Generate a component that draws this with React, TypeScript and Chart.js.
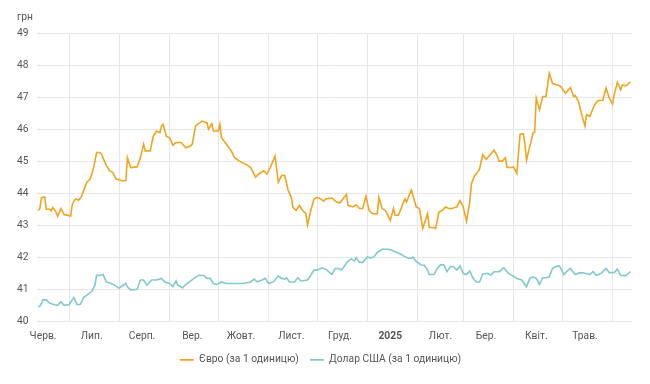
import React, { useEffect, useRef } from "react";
import { Chart, registerables } from "chart.js";

Chart.register(...registerables);

// Day index: 0 = 1 June 2024
const monthStartDays = [30, 61, 92, 122, 153, 183, 214, 245, 273, 304, 334, 365];
const monthMidDays = [14, 44, 75, 106, 136, 167, 197, 228, 259, 287, 318, 348];
const monthLabels = ["Черв.", "Лип.", "Серп.", "Вер.", "Жовт.", "Лист.", "Груд.", "2025", "Лют.", "Бер.", "Квіт.", "Трав."];
const yearTickDay = 228;

const euroDays = [
  11, 12, 13, 15, 16, 18, 19, 20, 22, 23, 25, 27, 30, 31, 32, 34, 36, 38, 39, 41, 43, 45, 47, 49, 50, 53, 55, 57, 59, 63,
  65, 66, 68, 72, 74, 76, 77, 80, 82, 84, 86, 87, 88, 90, 92, 94, 96, 99, 102, 105, 106, 108, 112, 115, 116, 118, 119, 122, 123, 124,
  127, 130, 132, 135, 139, 142, 145, 147, 150, 152, 154, 157, 159, 161, 163, 165, 167, 168, 170, 172, 174, 176, 177, 179, 181, 183, 185, 187, 188, 192,
  195, 197, 201, 202, 205, 207, 209, 211, 213, 215, 217, 220, 221, 223, 225, 228, 230, 231, 233, 237, 238, 241, 244, 246, 248, 251, 252, 255, 256, 258,
  260, 262, 264, 266, 269, 271, 273, 275, 277, 278, 280, 281, 283, 285, 287, 289, 292, 294, 295, 297, 299, 300, 303, 304, 306, 308, 310, 311, 312, 314,
  316, 317, 318, 320, 322, 324, 326, 328, 331, 333, 336, 339, 341, 342, 344, 346, 348, 349, 351, 354, 356, 359, 361, 363, 365, 366, 368, 370, 371, 373,
  374, 376,
];
const euroValues = [
  43.46, 43.52, 43.86, 43.88, 43.5, 43.5, 43.45, 43.55, 43.41, 43.28, 43.52, 43.33, 43.3, 43.28, 43.65, 43.82, 43.78, 43.93, 44.08, 44.34, 44.44, 44.75, 45.27, 45.27, 45.22, 44.86, 44.7, 44.64, 44.44, 44.39,
  44.39, 45.11, 44.8, 44.82, 45.11, 45.53, 45.32, 45.32, 45.78, 45.94, 45.89, 46.1, 46.15, 45.78, 45.73, 45.5, 45.58, 45.58, 45.42, 45.48, 45.53, 46.1, 46.25, 46.2, 46.0, 46.17, 45.94, 45.94, 46.15, 45.73,
  45.53, 45.32, 45.11, 45.0, 44.9, 44.8, 44.5, 44.6, 44.7, 44.6, 44.8, 45.16, 44.34, 44.55, 44.55, 44.1, 43.87, 43.56, 43.46, 43.62, 43.46, 43.36, 43.0, 43.46, 43.82, 43.87, 43.82, 43.75, 43.82, 43.85,
  43.72, 43.7, 43.96, 43.62, 43.57, 43.64, 43.52, 43.52, 43.9, 43.46, 43.36, 43.36, 43.87, 43.52, 43.46, 43.15, 43.52, 43.31, 43.31, 43.82, 43.72, 44.1, 43.57, 43.52, 42.9, 43.36, 42.93, 42.93, 42.9, 43.41,
  43.46, 43.57, 43.52, 43.52, 43.57, 43.77, 43.57, 43.13, 43.72, 44.29, 44.55, 44.6, 44.75, 45.2, 45.06, 45.16, 45.34, 45.16, 45.0, 45.0, 45.11, 44.8, 44.8, 44.82, 44.62, 45.84, 45.85, 45.53, 45.03, 45.47,
  45.88, 45.9, 46.97, 46.6, 47.02, 47.02, 47.74, 47.43, 47.38, 47.33, 47.12, 47.3, 47.02, 47.05, 46.87, 46.45, 46.1, 46.45, 46.4, 46.76, 46.89, 46.9, 47.28, 46.97, 46.78, 47.07, 47.46, 47.23, 47.38, 47.35,
  47.38, 47.48,
];

const usdDays = [
  11, 12, 14, 16, 18, 21, 23, 25, 27, 30, 33, 35, 37, 39, 41, 44, 46, 47, 49, 51, 53, 56, 58, 61, 62, 65, 66, 68, 72, 74,
  76, 78, 81, 84, 87, 89, 92, 94, 96, 97, 100, 102, 105, 107, 110, 113, 115, 117, 119, 121, 124, 127, 132, 137, 142, 144, 146, 149, 151, 153,
  156, 159, 161, 163, 164, 166, 169, 171, 173, 177, 179, 181, 183, 186, 189, 192, 194, 196, 198, 202, 204, 206, 207, 209, 211, 214, 216, 218, 220, 223,
  227, 229, 231, 234, 237, 239, 241, 242, 244, 247, 249, 251, 252, 255, 257, 259, 261, 263, 265, 267, 269, 271, 273, 275, 277, 279, 281, 283, 285, 288,
  290, 292, 295, 298, 301, 303, 306, 309, 312, 314, 316, 318, 320, 322, 324, 326, 328, 330, 332, 333, 335, 337, 339, 342, 345, 348, 351, 353, 355, 358,
  361, 363, 366, 368, 370, 373, 376,
];
const usdValues = [
  40.46, 40.47, 40.67, 40.67, 40.57, 40.52, 40.5, 40.61, 40.5, 40.52, 40.74, 40.52, 40.53, 40.74, 40.82, 40.93, 41.13, 41.44, 41.43, 41.46, 41.23, 41.18, 41.13, 41.03, 41.08, 41.18, 41.08, 40.98, 41.0, 41.29,
  41.29, 41.13, 41.29, 41.29, 41.34, 41.23, 41.18, 41.08, 41.26, 41.13, 41.05, 41.15, 41.26, 41.34, 41.44, 41.43, 41.34, 41.34, 41.18, 41.15, 41.23, 41.18, 41.18, 41.18, 41.23, 41.32, 41.23, 41.29, 41.34, 41.18,
  41.23, 41.42, 41.34, 41.32, 41.36, 41.23, 41.23, 41.36, 41.26, 41.29, 41.44, 41.6, 41.6, 41.67, 41.6, 41.46, 41.65, 41.65, 41.6, 41.88, 41.95, 41.88, 41.99, 41.84, 41.84, 42.02, 41.97, 42.02, 42.15, 42.25,
  42.25, 42.22, 42.17, 42.11, 42.02, 41.97, 41.97, 42.0, 41.87, 41.76, 41.75, 41.6, 41.46, 41.46, 41.65, 41.77, 41.76, 41.55, 41.71, 41.71, 41.6, 41.73, 41.49, 41.46, 41.57, 41.34, 41.23, 41.22, 41.48, 41.5,
  41.44, 41.55, 41.55, 41.67, 41.49, 41.44, 41.34, 41.29, 41.08, 41.34, 41.39, 41.34, 41.15, 41.36, 41.36, 41.39, 41.65, 41.71, 41.73, 41.67, 41.46, 41.57, 41.65, 41.46, 41.52, 41.5, 41.46, 41.55, 41.44, 41.5,
  41.65, 41.52, 41.52, 41.63, 41.44, 41.42, 41.55,
];

const seriesNames = ["Євро (за 1 одиницю)", "Долар США (за 1 одиницю)"];
const unitLabel = "грн";

const EURO_COLOR = "#EEA520";
const USD_COLOR = "#82C9CB";
const FONT = "Roboto, Arial, sans-serif";
const FONT_SIZE = 10.3;
const TEXT = "#555555";
const GRID = "#e6e6e6";

export default function App() {
  const ref = useRef<HTMLCanvasElement | null>(null);

  useEffect(() => {
    document.body.style.margin = "0";
    const canvas = ref.current;
    if (!canvas) return;

    const allTicks = [...monthMidDays, ...monthStartDays].sort((a, b) => a - b);

    const unitPlugin = {
      id: "unitLabel",
      afterDraw(chart: any) {
        const ctx = chart.ctx;
        const area = chart.chartArea;
        ctx.save();
        ctx.font = `${FONT_SIZE}px ${FONT}`;
        const w = ctx.measureText("49").width;
        ctx.fillStyle = TEXT;
        ctx.textAlign = "left";
        ctx.textBaseline = "middle";
        ctx.fillText(unitLabel, area.left - 8 - w, area.top - 16);
        ctx.restore();
      },
    };

    const chart = new Chart(canvas, {
      type: "line",
      data: {
        datasets: [
          {
            label: seriesNames[0],
            data: euroDays.map((d, i) => ({ x: d, y: euroValues[i] })),
            borderColor: EURO_COLOR,
            backgroundColor: EURO_COLOR,
            borderWidth: 1.6,
            pointRadius: 0,
            tension: 0,
          },
          {
            label: seriesNames[1],
            data: usdDays.map((d, i) => ({ x: d, y: usdValues[i] })),
            borderColor: USD_COLOR,
            backgroundColor: USD_COLOR,
            borderWidth: 1.6,
            pointRadius: 0,
            tension: 0,
          },
        ],
      },
      options: {
        animation: false,
        responsive: false,
        maintainAspectRatio: false,
        layout: { padding: { left: 9, right: 18, top: 33, bottom: 9 } },
        plugins: {
          tooltip: { enabled: false },
          legend: {
            position: "bottom",
            labels: {
              usePointStyle: true,
              pointStyle: "line",
              pointStyleWidth: 14,
              boxHeight: 2,
              padding: 11,
              color: TEXT,
              font: { family: FONT, size: FONT_SIZE },
            },
          },
        },
        scales: {
          x: {
            type: "linear",
            min: 10,
            max: 377,
            afterBuildTicks(scale: any) {
              scale.ticks = allTicks.map((v) => ({ value: v }));
            },
            afterFit(scale: any) {
              scale.height = scale.height - 8;
            },
            border: { display: false },
            grid: {
              drawTicks: false,
              color: (ctx: any) =>
                ctx.tick && monthStartDays.includes(ctx.tick.value) ? GRID : "rgba(0,0,0,0)",
            },
            ticks: {
              autoSkip: false,
              maxRotation: 0,
              padding: 9,
              color: TEXT,
              font: (ctx: any) => ({
                family: FONT,
                size: FONT_SIZE,
                weight: ctx.tick && ctx.tick.value === yearTickDay ? "bold" : "normal",
              }),
              callback: (value: any) => {
                const i = monthMidDays.indexOf(Number(value));
                return i >= 0 ? monthLabels[i] : "";
              },
            },
          },
          y: {
            min: 40,
            max: 49,
            border: { display: false },
            grid: { drawTicks: false, color: GRID },
            ticks: {
              stepSize: 1,
              padding: 8,
              color: TEXT,
              font: { family: FONT, size: FONT_SIZE },
            },
          },
        },
      },
      plugins: [unitPlugin],
    });

    return () => chart.destroy();
  }, []);

  return (
    <div style={{ width: 650, height: 384 }}>
      <canvas ref={ref} width={650} height={384} style={{ display: "block" }} />
    </div>
  );
}
